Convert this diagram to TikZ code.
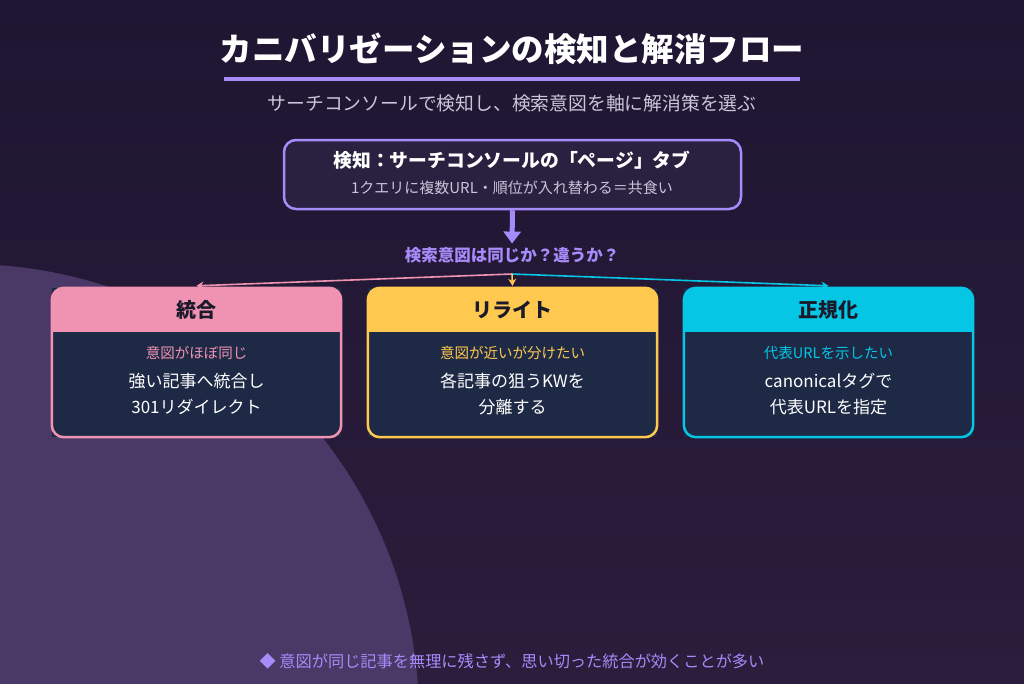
\documentclass[tikz,border=0pt]{standalone}
\usepackage{fontspec}
\setmainfont{Noto Sans CJK JP}
\usetikzlibrary{arrows.meta}
\definecolor{bgtop}{HTML}{1E1632}
\definecolor{bgbot}{HTML}{2B1D3B}
\definecolor{blob}{HTML}{4A3866}
\definecolor{lav}{HTML}{A78BFA}
\definecolor{detfill}{HTML}{2A2140}
\definecolor{navy}{HTML}{1E2A45}
\definecolor{cpink}{HTML}{F093B3}
\definecolor{cyellow}{HTML}{FFC94F}
\definecolor{ccyan}{HTML}{06C6E6}
\definecolor{soft}{HTML}{CAC5D9}
\definecolor{ink}{HTML}{1B1A2B}

\begin{document}
\begin{tikzpicture}[
	x=1pt, y=-1pt,
	card/.style={rectangle, minimum width=289pt, minimum height=149pt, inner sep=0pt, fill=navy},
	head/.style={font=\fontsize{20}{24}\selectfont\bfseries, text=ink},
	subtxt/.style={font=\fontsize{14.5}{18}\selectfont},
	bodytxt/.style={font=\fontsize{17}{26}\selectfont, text=white, align=center},
	branch/.style={line width=1.6pt, -{Stealth[length=7pt,width=8pt]}}]
\useasboundingbox (0,0) rectangle (1024,683);
\shade[top color=bgtop, bottom color=bgbot] (0,0) rectangle (1024,683);
\begin{scope}
	\clip (0,0) rectangle (1024,683);
	\fill[blob] (-34,717) circle (453pt);
\end{scope}

\node[font=\fontsize{32.5}{38}\selectfont\bfseries, text=white] (title) at (512,49) {カニバリゼーションの検知と解消フロー};
\draw[lav, line width=4pt] (224,79) -- (800,79);
\node[font=\fontsize{18.8}{22}\selectfont, text=soft] (subtitle) at (512,103) {サーチコンソールで検知し、検索意図を軸に解消策を選ぶ};

\node[rectangle, rounded corners=12pt, draw=lav, line width=2.5pt, fill=detfill,
	minimum width=457pt, minimum height=69pt] (detect) at (512.5,174.5) {};
\node[font=\fontsize{18.8}{22}\selectfont\bfseries, text=white] (detect-t) at (512,160) {検知：サーチコンソールの「ページ」タブ};
\node[font=\fontsize{15}{18}\selectfont, text=soft] (detect-s) at (512,188) {1クエリに複数URL・順位が入れ替わる＝共食い};

\node[font=\fontsize{16.5}{20}\selectfont\bfseries, text=lav] (question) at (512,255) {検索意図は同じか？違うか？};
\draw[lav, line width=5pt, -{Triangle[length=12pt,width=17pt]}] (detect.south) -- (question.north);
\coordinate (split) at (512,274);

\foreach \nm/\cx/\col/\ttl/\sub/\la/\lb in {
	merge/196.5/cpink/統合/意図がほぼ同じ/強い記事へ統合し/301リダイレクト,
	rewrite/512.5/cyellow/リライト/意図が近いが分けたい/各記事の狙うKWを/分離する,
	canon/828.5/ccyan/正規化/代表URLを示したい/canonicalタグで/代表URLを指定} {
	\node[card] (\nm) at (\cx,362.5) {};
	\begin{scope}
		\clip[rounded corners=12pt] (\nm.north west) rectangle (\nm.south east);
		\fill[\col] (\nm.north west) rectangle ([yshift=-44pt]\nm.north east);
	\end{scope}
	\draw[\col, line width=2.5pt, rounded corners=12pt] (\nm.north west) rectangle (\nm.south east);
	\node[head] (\nm-t) at ([yshift=-22pt]\nm.north) {\ttl};
	\node[subtxt, text=\col] (\nm-s) at ([yshift=-65pt]\nm.north) {\sub};
	\node[bodytxt] (\nm-b) at ([yshift=-106pt]\nm.north) {\la\\\lb};
}

\draw[branch, cpink] (split) -- ([yshift=2pt]merge.north);
\draw[branch, ccyan] (split) -- ([yshift=2pt]canon.north);
\draw[branch, cyellow] (split) -- ([yshift=2pt]rewrite.north);

\node[font=\fontsize{16.2}{19}\selectfont, text=lav] (note) at (512,661) {◆ 意図が同じ記事を無理に残さず、思い切った統合が効くことが多い};
\end{tikzpicture}
\end{document}
